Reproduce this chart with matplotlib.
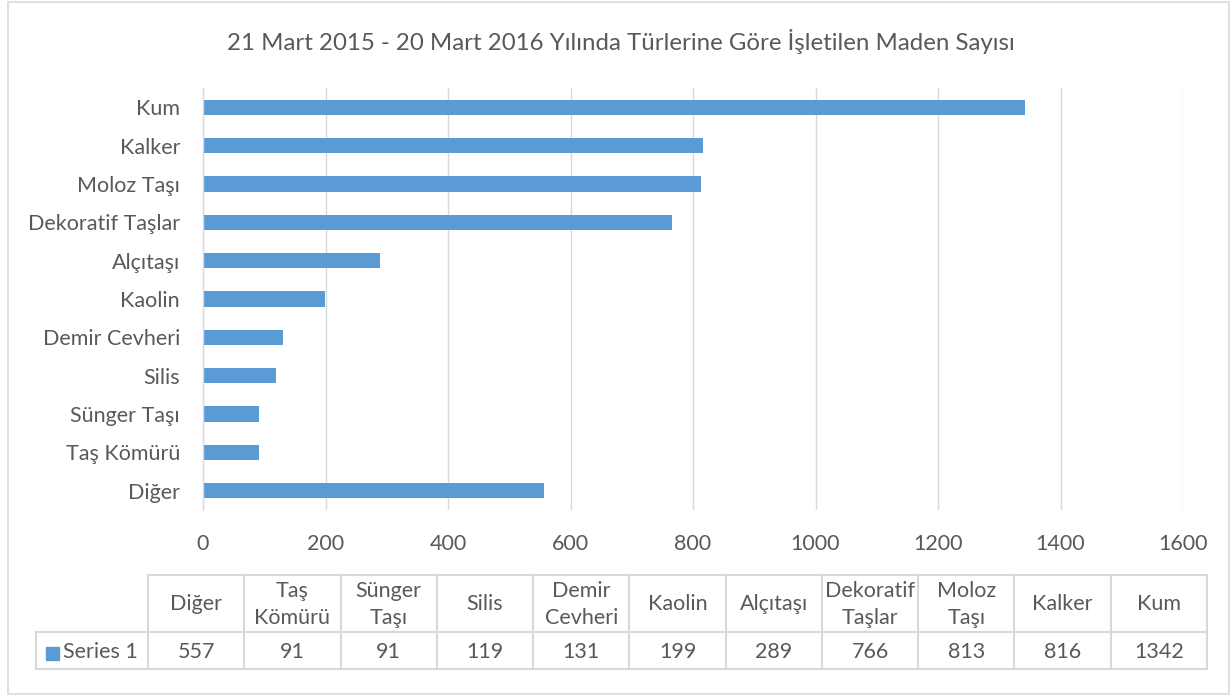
import matplotlib
matplotlib.use("Agg")
import matplotlib.pyplot as plt
from matplotlib.patches import Rectangle
from matplotlib.lines import Line2D

categories = ["Diğer", "Taş Kömürü", "Sünger Taşı", "Silis", "Demir Cevheri",
              "Kaolin", "Alçıtaşı", "Dekoratif Taşlar", "Moloz Taşı", "Kalker", "Kum"]
table_labels = ["Diğer", "Taş\nKömürü", "Sünger\nTaşı", "Silis", "Demir\nCevheri",
                "Kaolin", "Alçıtaşı", "Dekoratif\nTaşlar", "Moloz\nTaşı", "Kalker", "Kum"]
values = [557, 91, 91, 119, 131, 199, 289, 766, 813, 816, 1342]
series_name = "Series 1"
title = "21 Mart 2015 - 20 Mart 2016 Yılında Türlerine Göre İşletilen Maden Sayısı"
xticks = [0, 200, 400, 600, 800, 1000, 1200, 1400, 1600]

plt.rcParams['font.family'] = ['Lato', 'DejaVu Sans']
TXT = "#595959"
BAR = "#5B9BD5"
GRID = "#D9D9D9"
FS = 15.5

W, H = 1232, 697
fig = plt.figure(figsize=(W / 100, H / 100), dpi=100)

def fx(px):
    return px / W

def fy(py):
    return 1 - py / H

# outer border
fig.patches.append(Rectangle((fx(8), fy(694)), fx(1229) - fx(8), fy(2) - fy(694),
                             transform=fig.transFigure, fill=False, edgecolor=GRID, lw=1.2))

ax = fig.add_axes([fx(203), fy(510), fx(1183) - fx(203), fy(88) - fy(510)])
ypos = list(range(len(categories)))
ax.barh(ypos, values, height=0.4, color=BAR)
ax.set_ylim(-0.5, len(categories) - 0.5)
ax.set_xlim(0, 1600)
ax.set_xticks(xticks)
ax.set_xticklabels([str(t) for t in xticks])
ax.set_yticks(ypos)
ax.set_yticklabels(categories)
ax.tick_params(axis='both', length=0, labelsize=FS, colors=TXT)
ax.tick_params(axis='x', pad=17)
ax.tick_params(axis='y', pad=16.5)
ax.grid(axis='x', color=GRID, lw=1)
ax.set_axisbelow(True)
for s in ["top", "right", "bottom"]:
    ax.spines[s].set_visible(False)
ax.spines["left"].set_color(GRID)
ax.spines["left"].set_linewidth(1)

fig.text(fx(621), fy(42), title, ha='center', va='center', fontsize=17.3, color=TXT)

# data table
x0, x1 = 148, 1207
ncol = len(categories)
cw = (x1 - x0) / ncol
y_top, y_mid, y_bot = 575, 632, 669
leg_x0 = 36

def hline(xa, xb, y):
    fig.add_artist(Line2D([fx(xa), fx(xb)], [fy(y), fy(y)], transform=fig.transFigure,
                          color=GRID, lw=1.5))

def vline(x, ya, yb):
    fig.add_artist(Line2D([fx(x), fx(x)], [fy(ya), fy(yb)], transform=fig.transFigure,
                          color=GRID, lw=1.5))

hline(x0, x1, y_top)
hline(leg_x0, x1, y_mid)
hline(leg_x0, x1, y_bot)
vline(leg_x0, y_mid, y_bot)
for i in range(ncol + 1):
    vline(x0 + i * cw, y_top, y_bot)

for i, (lab, v) in enumerate(zip(table_labels, values)):
    cx = x0 + (i + 0.5) * cw
    fig.text(fx(cx), fy((y_top + y_mid) / 2 + 1), lab, ha='center', va='center',
             fontsize=FS, color=TXT, linespacing=1.4)
    fig.text(fx(cx), fy((y_mid + y_bot) / 2 + 1), str(v), ha='center', va='center',
             fontsize=FS, color=TXT)

# legend key
fig.patches.append(Rectangle((fx(46), fy(660)), fx(59) - fx(46), fy(647) - fy(660),
                             transform=fig.transFigure, color=BAR))
fig.text(fx(63), fy((y_mid + y_bot) / 2 + 1), series_name, ha='left', va='center',
         fontsize=FS, color=TXT)

fig.savefig("out.png", dpi=100)
